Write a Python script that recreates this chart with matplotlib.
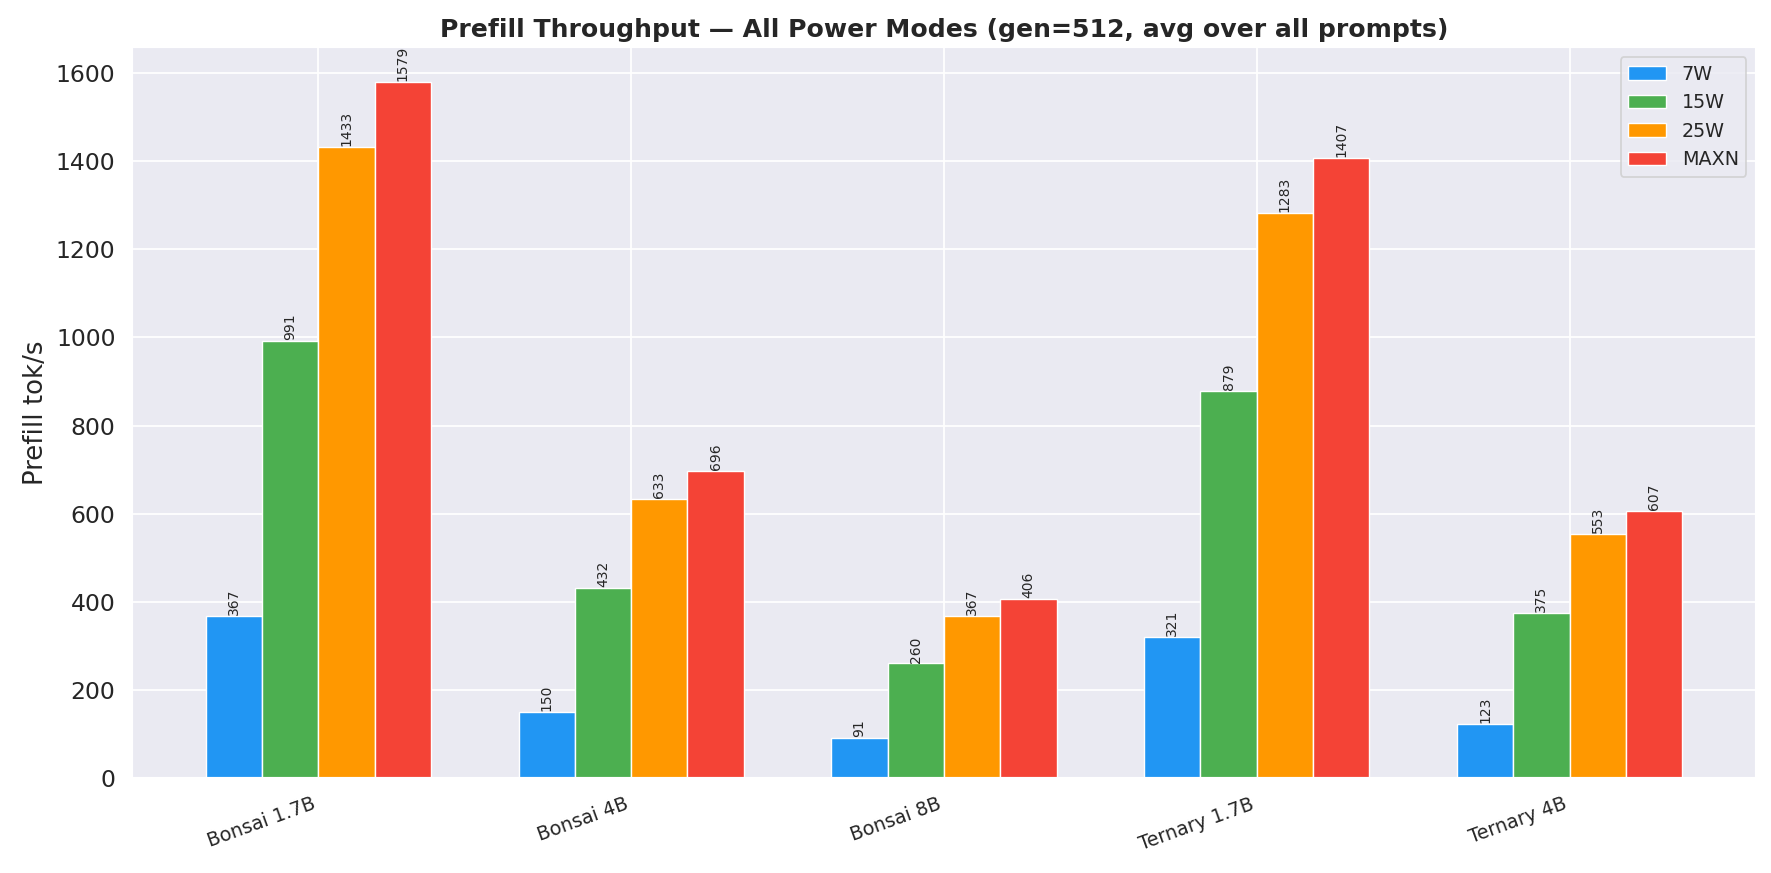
import numpy as np
import matplotlib
matplotlib.use("Agg")
import matplotlib.pyplot as plt
import seaborn as sns

models = ["Bonsai 1.7B", "Bonsai 4B", "Bonsai 8B", "Ternary 1.7B", "Ternary 4B"]
modes = ["7W", "15W", "25W", "MAXN"]
prefill_7w = [367, 150, 91, 321, 123]
prefill_15w = [991, 432, 260, 879, 375]
prefill_25w = [1433, 633, 367, 1283, 553]
prefill_maxn = [1579, 696, 406, 1407, 607]
colors = ["#2196F3", "#4CAF50", "#FF9800", "#F44336"]

sns.set_theme(style="darkgrid")

fig, ax = plt.subplots(figsize=(14.168, 6.984), dpi=125)
x = np.arange(len(models))
width = 0.18
series = [prefill_7w, prefill_15w, prefill_25w, prefill_maxn]

for i, (mode, vals, c) in enumerate(zip(modes, series, colors)):
    pos = x + (i - 1.5) * width
    bars = ax.bar(pos, vals, width, label=mode, color=c, edgecolor="white", linewidth=0.8)
    for b, v in zip(bars, vals):
        ax.text(b.get_x() + b.get_width() / 2, b.get_height() + 2, f"{v}",
                ha="center", va="bottom", rotation=90, fontsize=8)

ax.set_xticks(x)
ax.set_xticklabels(models, rotation=20, ha="right", fontsize=11)
ax.tick_params(axis="y", labelsize=13.5)
ax.set_ylabel("Prefill tok/s", fontsize=15)
ax.set_title("Prefill Throughput — All Power Modes (gen=512, avg over all prompts)",
             fontsize=14.5, fontweight="bold")
ax.legend(loc="upper right", fontsize=11)

fig.subplots_adjust(left=0.0745, right=0.9915, top=0.9456, bottom=0.1088)
fig.savefig("out.png", dpi=125)
